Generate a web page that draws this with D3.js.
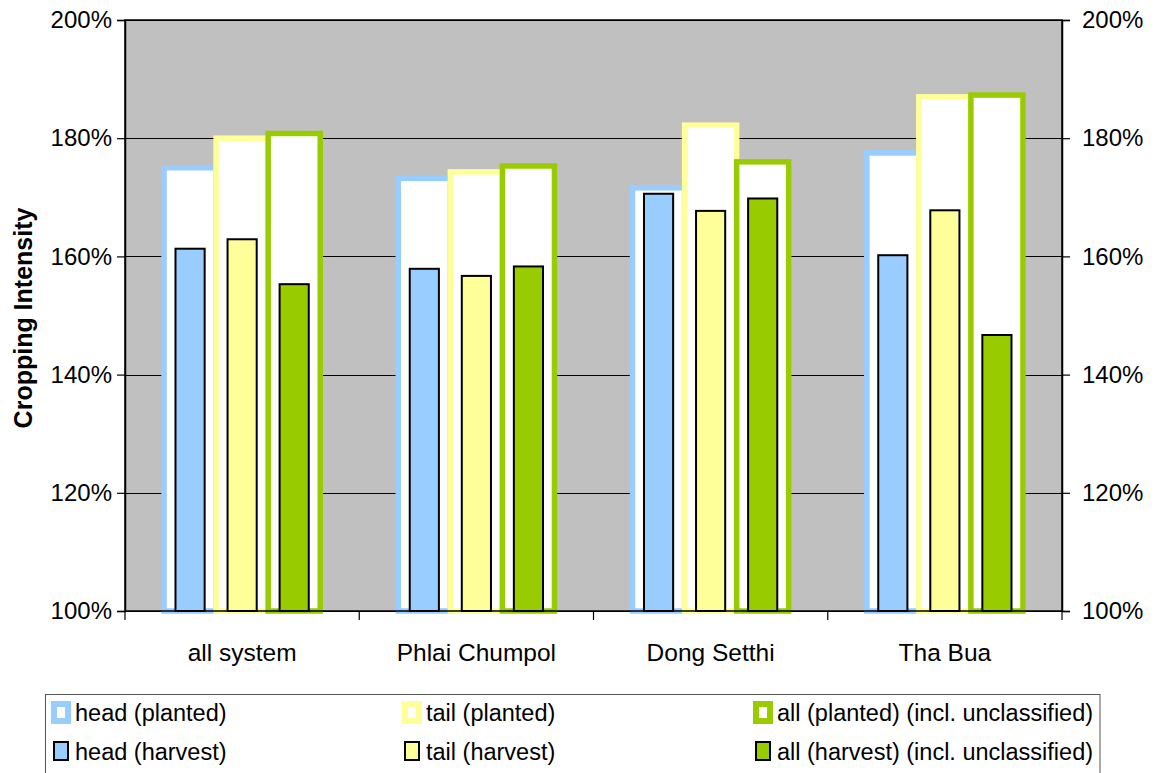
<!DOCTYPE html>
<html>
<head>
<meta charset="utf-8">
<script src="https://cdn.jsdelivr.net/npm/d3@7"></script>
<style>
  html, body { margin: 0; padding: 0; background: #fff; }
  svg { display: block; }
  text { font-family: "Liberation Sans", Arial, sans-serif; fill: #000; }
</style>
</head>
<body>
<svg id="chart" width="1157" height="773"></svg>
<script>
// Cropping intensity by irrigation zone
const categories = ["all system", "Phlai Chumpol", "Dong Setthi", "Tha Bua"];
const headPlanted = [175.0, 173.2, 171.6, 177.5];
const tailPlanted = [180.0, 174.3, 182.2, 187.0];
const allPlanted  = [180.8, 175.3, 176.0, 187.3];
const headHarvest = [161.3, 157.9, 170.6, 160.2];
const tailHarvest = [162.9, 156.7, 167.7, 167.8];
const allHarvest  = [155.3, 158.3, 169.8, 146.7];
const yTicks = [100, 120, 140, 160, 180, 200];
const seriesNames = [
  "head (planted)", "tail (planted)", "all (planted) (incl. unclassified)",
  "head (harvest)", "tail (harvest)", "all (harvest) (incl. unclassified)"
];
const colors = ["#99CCFF", "#FFFF99", "#99CC00"];

const svg = d3.select("#chart");
const plot = { left: 125, right: 1062, top: 20, bottom: 611 };

const x = d3.scaleBand().domain(categories).range([plot.left, plot.right]).paddingInner(0).paddingOuter(0);
const xSub = d3.scaleBand().domain([0, 1, 2]).range([0, x.bandwidth()]).paddingInner(0).paddingOuter(0.75);
const y = d3.scaleLinear().domain([100, 200]).range([plot.bottom, plot.top]);

// plot background
svg.append("rect")
  .attr("x", plot.left).attr("y", plot.top)
  .attr("width", plot.right - plot.left).attr("height", plot.bottom - plot.top)
  .attr("fill", "#C0C0C0");

// gridlines
svg.append("g").selectAll("line").data(yTicks).join("line")
  .attr("x1", plot.left).attr("x2", plot.right)
  .attr("y1", d => Math.round(y(d)) + 0.5).attr("y2", d => Math.round(y(d)) + 0.5)
  .attr("stroke", "#000").attr("stroke-width", 1.2);

const planted = [headPlanted, tailPlanted, allPlanted];
const harvest = [headHarvest, tailHarvest, allHarvest];
const plantedStroke = 5.5;
const harvestW = xSub.bandwidth() * 0.56;

// planted bars: white fill, wide coloured outline
planted.forEach((vals, s) => {
  svg.append("g").selectAll("rect").data(categories).join("rect")
    .attr("x", (c) => x(c) + xSub(s))
    .attr("y", (c, i) => y(vals[i]))
    .attr("width", xSub.bandwidth())
    .attr("height", (c, i) => y(100) - y(vals[i]))
    .attr("fill", "#fff")
    .attr("stroke", colors[s])
    .attr("stroke-width", plantedStroke);
});

// harvest bars: narrow, filled, black outline
harvest.forEach((vals, s) => {
  svg.append("g").selectAll("rect").data(categories).join("rect")
    .attr("x", (c) => x(c) + xSub(s) + (xSub.bandwidth() - harvestW) / 2)
    .attr("y", (c, i) => y(vals[i]))
    .attr("width", harvestW)
    .attr("height", (c, i) => y(100) - y(vals[i]))
    .attr("fill", colors[s])
    .attr("stroke", "#000")
    .attr("stroke-width", 2);
});

// plot frame
svg.append("rect")
  .attr("x", plot.left).attr("y", plot.top)
  .attr("width", plot.right - plot.left).attr("height", plot.bottom - plot.top)
  .attr("fill", "none").attr("stroke", "#000").attr("stroke-width", 1.5);

// y axes
const fmt = d => d + "%";
const yl = svg.append("g").attr("transform", `translate(${plot.left},0)`)
  .call(d3.axisLeft(y).tickValues(yTicks).tickFormat(fmt).tickSize(8).tickPadding(5));
const yr = svg.append("g").attr("transform", `translate(${plot.right},0)`)
  .call(d3.axisRight(y).tickValues(yTicks).tickFormat(fmt).tickSize(8).tickPadding(12));
[yl, yr].forEach(g => {
  g.select(".domain").attr("stroke", "#000").attr("stroke-width", 1.5);
  g.selectAll(".tick line").attr("stroke", "#000").attr("stroke-width", 1.2);
  g.selectAll(".tick text").attr("font-size", 24).attr("font-family", "Liberation Sans, Arial, sans-serif").attr("fill", "#000");
});

// x axis: tick marks at category boundaries, labels centred
const boundaries = categories.map(c => x(c)).concat([plot.right]);
svg.append("g").selectAll("line").data(boundaries).join("line")
  .attr("x1", d => d).attr("x2", d => d)
  .attr("y1", plot.bottom).attr("y2", plot.bottom + 9)
  .attr("stroke", "#000").attr("stroke-width", 1.2);
svg.append("g").selectAll("text").data(categories).join("text")
  .attr("x", c => x(c) + x.bandwidth() / 2)
  .attr("y", 661)
  .attr("text-anchor", "middle")
  .attr("font-size", 24.5)
  .text(c => c);

// y title
svg.append("text")
  .attr("transform", "translate(32,318) rotate(-90)")
  .attr("text-anchor", "middle")
  .attr("font-size", 25)
  .attr("font-weight", "bold")
  .text("Cropping Intensity");

// legend
const legend = svg.append("g");
legend.append("rect")
  .attr("x", 45.5).attr("y", 694.5).attr("width", 1054.5).attr("height", 120)
  .attr("fill", "#fff").attr("stroke", "#555").attr("stroke-width", 1);
const colX = [51, 402, 753];
const rowY = [712.5, 751];
seriesNames.forEach((name, i) => {
  const col = i % 3, row = Math.floor(i / 3);
  const g = legend.append("g");
  if (row === 0) {
    g.append("rect")
      .attr("x", colX[col] + 3).attr("y", rowY[row] - 8.5)
      .attr("width", 14).attr("height", 17)
      .attr("fill", "#fff").attr("stroke", colors[col]).attr("stroke-width", 6);
  } else {
    g.append("rect")
      .attr("x", colX[col] + 3).attr("y", rowY[row] - 9)
      .attr("width", 14).attr("height", 18)
      .attr("fill", colors[col]).attr("stroke", "#000").attr("stroke-width", 2);
  }
  g.append("text")
    .attr("x", colX[col] + 24)
    .attr("y", rowY[row] + 8.5)
    .attr("font-size", 23.5)
    .text(name);
});
</script>
</body>
</html>
